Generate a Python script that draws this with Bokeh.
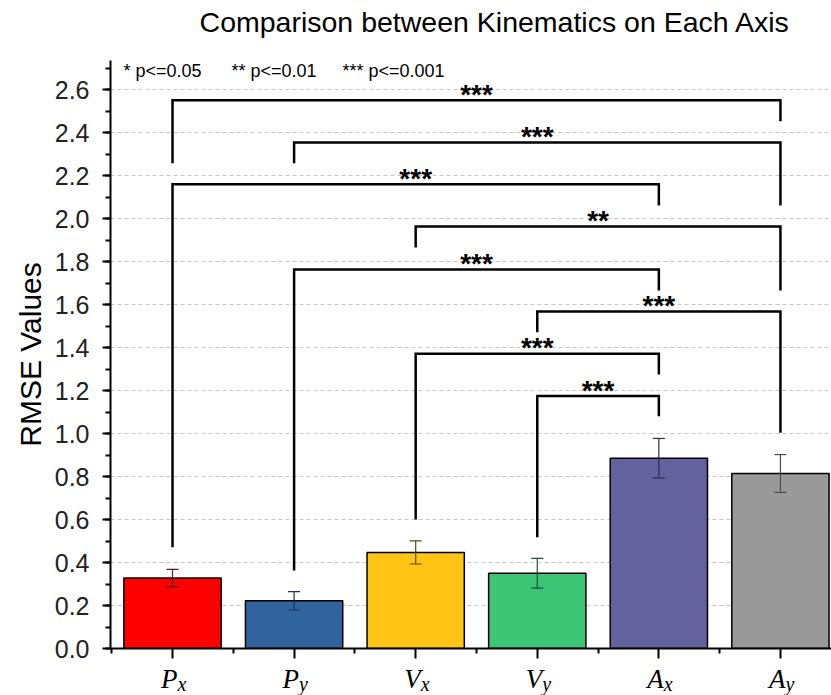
from bokeh.plotting import figure
from bokeh.layouts import column
from bokeh.models import (Range1d, FixedTicker, SingleIntervalTicker, NumeralTickFormatter,
                          Whisker, TeeHead, ColumnDataSource, Label)
from bokeh.core.properties import value
from bokeh.embed import file_html
from bokeh.resources import INLINE

# ---------------- data ----------------
title_text = "Comparison between Kinematics on Each Axis"
main_letters = ["P", "P", "V", "V", "A", "A"]
sub_letters = ["x", "y", "x", "y", "x", "y"]
rmse_mean = [0.328, 0.222, 0.447, 0.350, 0.885, 0.814]
rmse_err = [0.040, 0.043, 0.054, 0.069, 0.092, 0.088]
bar_colors = ["#FF0000", "#31639C", "#FFC414", "#3CC574", "#63619E", "#999999"]
err_colors = ["#5a1a1a", "#1d3352", "#5c4a14", "#1f5234", "#2c2b52", "#4d4d4d"]

# significance brackets (indices into categories, heights in RMSE units)
br_left = [0, 1, 0, 2, 1, 3, 2, 3]
br_right = [5, 5, 4, 5, 4, 5, 4, 4]
br_height = [2.55, 2.354, 2.159, 1.963, 1.763, 1.567, 1.371, 1.174]
br_left_end = [2.257, 2.257, 0.471, 1.865, 0.363, 1.471, 0.600, 0.518]
br_right_end = [2.453, 2.060, 2.060, 1.665, 1.665, 1.003, 1.274, 1.080]
br_label = ["***", "***", "***", "**", "***", "***", "***", "***"]

legend_texts = ["* p<=0.05", "** p<=0.01", "*** p<=0.001"]

FONT = "Liberation Sans"
SERIF = "Liberation Serif"

idx = list(range(len(rmse_mean)))
xr = Range1d(-0.51, 5.42)


def strip(height):
    f = figure(width=831, height=height, output_backend="svg", toolbar_location=None,
               x_range=xr, y_range=Range1d(0, 1), x_axis_type=None, y_axis_type=None,
               min_border_left=110, min_border_right=0, min_border_top=0, min_border_bottom=0)
    f.outline_line_color = None
    f.xgrid.visible = False
    f.ygrid.visible = False
    f.background_fill_color = "white"
    f.border_fill_color = "white"
    return f


# ---------------- title strip ----------------
t = strip(45)
t.text(x=[(xr.start + xr.end) / 2], y=[1], text=[title_text], text_font=value(FONT),
       text_font_size="28.5px", text_align="center", text_baseline="top",
       x_offset=24, y_offset=5, text_color="black")

# ---------------- main plot ----------------
p = figure(width=831, height=618, output_backend="svg", toolbar_location=None,
           x_range=xr, y_range=Range1d(0, 2.735),
           min_border_left=110, min_border_right=0, min_border_top=15, min_border_bottom=15)
p.outline_line_color = None
p.background_fill_color = "white"
p.border_fill_color = "white"

# grid
p.xgrid.visible = False
p.ygrid.grid_line_color = "#c8c8c8"
p.ygrid.grid_line_dash = "4 3"
p.ygrid.grid_line_width = 1

# y axis
p.yaxis.ticker = SingleIntervalTicker(interval=0.2, num_minor_ticks=2)
p.yaxis.formatter = NumeralTickFormatter(format="0.0")
p.yaxis.axis_label = "RMSE Values"
p.yaxis.axis_label_text_font = FONT
p.yaxis.axis_label_text_font_size = "30px"
p.yaxis.axis_label_text_font_style = "normal"
p.yaxis.axis_label_text_color = "black"
p.yaxis.axis_label_standoff = 5
p.yaxis.major_label_text_font = FONT
p.yaxis.major_label_text_font_size = "25px"
p.yaxis.major_label_text_color = "#222222"
p.yaxis.major_label_standoff = 13

for ax in (p.xaxis[0], p.yaxis[0]):
    ax.axis_line_width = 2
    ax.axis_line_color = "black"
    ax.major_tick_line_width = 2
    ax.major_tick_line_color = "black"
    ax.minor_tick_line_width = 2
    ax.minor_tick_line_color = "black"
    ax.major_tick_in = 0
    ax.minor_tick_in = 0
p.yaxis.major_tick_out = 8
p.yaxis.minor_tick_out = 5

# x axis (labels are drawn in the strip below)
p.xaxis.ticker = FixedTicker(ticks=idx, minor_ticks=[i - 0.5 for i in idx] + [idx[-1] + 0.5])
p.xaxis.major_tick_out = 10
p.xaxis.minor_tick_out = 5
p.xaxis.major_label_text_color = None
p.xaxis.major_label_text_font_size = "1px"
p.xaxis.major_label_standoff = 0

# bars
src = ColumnDataSource(dict(x=idx, top=rmse_mean,
                            upper=[m + e for m, e in zip(rmse_mean, rmse_err)],
                            lower=[m - e for m, e in zip(rmse_mean, rmse_err)],
                            color=bar_colors, ecolor=err_colors))
p.vbar(x="x", top="top", width=0.8, source=src, fill_color="color",
       line_color="black", line_width=1.5)

w = Whisker(base="x", upper="upper", lower="lower", source=src,
            line_color="ecolor", line_width=1.2, level="overlay",
            upper_head=TeeHead(size=12, line_color="ecolor", line_width=1.2),
            lower_head=TeeHead(size=12, line_color="ecolor", line_width=1.2))
p.add_layout(w)

# brackets
xs, ys = [], []
for l, r, h, le, re_ in zip(br_left, br_right, br_height, br_left_end, br_right_end):
    xs.append([l, l, r, r])
    ys.append([le, h, h, re_])
p.multi_line(xs, ys, line_color="black", line_width=2.5, line_join="miter")

p.text(x=[(l + r) / 2 for l, r in zip(br_left, br_right)], y=br_height, text=br_label,
       text_font=value(FONT), text_font_size="28px", text_font_style="bold",
       text_align="center", text_baseline="alphabetic", y_offset=-6, text_color="black")

# significance legend
for txt, off in zip(legend_texts, [13, 121, 232]):
    p.add_layout(Label(x=xr.start, y=p.y_range.end, x_offset=off, y_offset=0,
                       text=txt, text_font=FONT, text_font_size="18px",
                       text_baseline="top", text_color="black"))

# ---------------- x tick label strip (italic letter with subscript) ----------------
q = strip(32)
q.text(x=idx, y=[1] * len(idx), text=main_letters, text_font=value(SERIF),
       text_font_style="italic", text_font_size="27px", text_align="right",
       text_baseline="top", x_offset=5, y_offset=0, text_color="black")
q.text(x=idx, y=[1] * len(idx), text=sub_letters, text_font=value(SERIF),
       text_font_style="italic", text_font_size="20px", text_align="left",
       text_baseline="top", x_offset=5, y_offset=9, text_color="black")

layout = column(t, p, q, spacing=0)
open("out.html", "w").write(file_html(layout, INLINE))
